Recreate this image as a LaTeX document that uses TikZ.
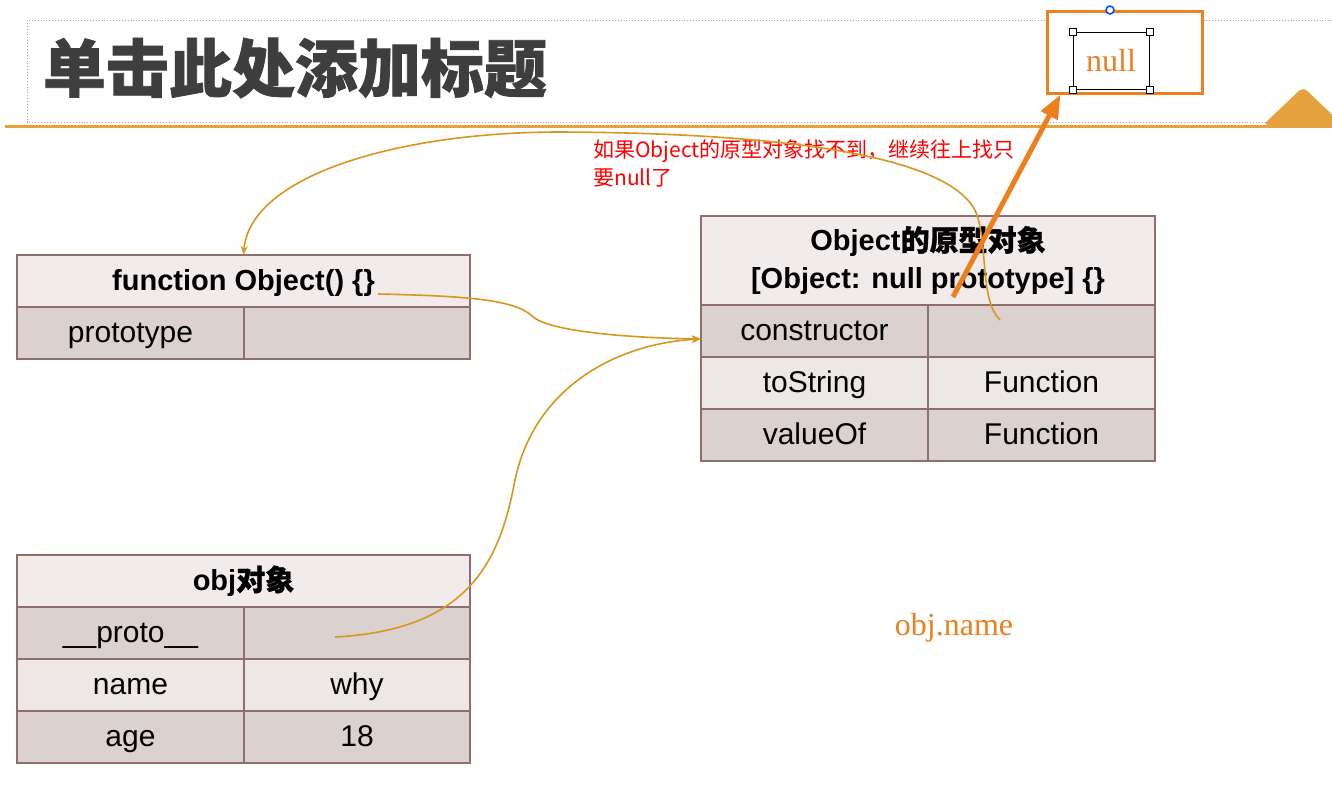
\documentclass[tikz,border=0pt]{standalone}
\usepackage{fontspec}
\setmainfont{Liberation Sans}
\newfontfamily\cjk{Noto Sans CJK SC}[BoldFeatures={FakeBold=1.2}]
\newfontfamily\cjkplain{Noto Sans CJK SC}
\newfontfamily\serifn{Liberation Serif}
\usetikzlibrary{arrows.meta,calc}
\definecolor{bordercol}{HTML}{8E6F6D}
\definecolor{hdrfill}{HTML}{F1ECEB}
\definecolor{darkfill}{HTML}{DBD1CE}
\definecolor{lightfill}{HTML}{EDE7E6}
\definecolor{gold}{HTML}{D8961F}
\definecolor{linegold}{HTML}{E6A23C}
\definecolor{nullorange}{HTML}{EE7F1E}
\definecolor{titlegray}{HTML}{3E3E3E}
\tikzset{
  cell/.style={draw=bordercol, line width=1.3pt, minimum height=52pt, inner sep=0pt, outer sep=0pt, text height=23pt, text depth=4pt, font=\fontsize{30}{38}\selectfont, text=black},
  hdr/.style={cell, fill=hdrfill, font=\fontsize{29}{38}\selectfont\bfseries},
  dk/.style={cell, fill=darkfill},
  lt/.style={cell, fill=lightfill},
  kcol/.style={minimum width=227pt},
  vcol/.style={minimum width=226pt},
  link/.style={draw=gold, line width=1.6pt, -{Stealth[length=9pt,width=7pt]}},
  handle/.style={draw=black, fill=white, line width=0.8pt, minimum size=7pt, inner sep=0pt},
}
\begin{document}
\begin{tikzpicture}[x=1pt,y=-1pt]
\useasboundingbox (0,0) rectangle (1332,790);
\fill[white] (0,0) rectangle (1332,790);
% title area
\draw[gray!70, line width=0.9pt, dotted] (1332,20) -- (27,20) -- (27,122) -- (1332,122);
\draw[linegold, line width=3pt] (5,126) -- (1332,126);
\fill[linegold, rounded corners=5pt] (1263,125) -- (1303,87) -- (1343,125) -- cycle;
\node[font=\cjk\fontsize{63}{70}\selectfont\bfseries, text=titlegray, inner sep=0pt] (title) at (295,68) {单击此处添加标题};
% null box
\node[draw=nullorange, line width=3pt, fill=white, minimum width=155pt, minimum height=82pt, inner sep=0pt] (nullbox) at (1124.5,52) {};
\node[draw=black, line width=1pt, minimum width=76pt, minimum height=57pt, inner sep=0pt, text=nullorange, font=\serifn\fontsize{32}{36}\selectfont] (nulltxt) at (1111,60.5) {null};
\node[handle] (h1) at (nulltxt.north west) {};
\node[handle] (h2) at (nulltxt.north east) {};
\node[handle] (h3) at (nulltxt.south west) {};
\node[handle] (h4) at (nulltxt.south east) {};
\node[draw=blue!70!cyan, line width=1.5pt, circle, minimum size=8pt, inner sep=0pt, fill=white] (rot) at (1110,10) {};
% table 1: function Object
\node[hdr, minimum width=453pt] (f1h) at (243.5,281) {function Object() \{\}};
\node[dk, kcol] (f1k) at (130.5,333) {prototype};
\node[dk, vcol] (f1v) at (357,333) {};
% table 2: Object prototype
\node[hdr, minimum width=454pt, minimum height=89pt, text height=, text depth=, align=center] (ph) at (928,260.5) {Object{\cjk 的原型对象}\\{}[Object: null prototype] \{\}};
\node[dk, kcol] (c1k) at (814.5,331) {constructor};
\node[dk, kcol] (c1v) at (1041.5,331) {};
\node[lt, kcol] (c2k) at (814.5,383) {toString};
\node[lt, kcol] (c2v) at (1041.5,383) {Function};
\node[dk, kcol] (c3k) at (814.5,435) {valueOf};
\node[dk, kcol] (c3v) at (1041.5,435) {Function};
% table 3: obj
\node[hdr, minimum width=453pt] (oh) at (243.5,581) {obj{\cjk 对象}};
\node[dk, kcol] (o1k) at (130.5,633) {\_\_proto\_\_};
\node[dk, vcol] (o1v) at (357,633) {};
\node[lt, kcol] (o2k) at (130.5,685) {name};
\node[lt, vcol] (o2v) at (357,685) {why};
\node[dk, kcol] (o3k) at (130.5,737) {age};
\node[dk, vcol] (o3v) at (357,737) {18};
% texts
\node[anchor=north west, align=left, text=red, inner sep=0pt, font=\cjkplain\fontsize{21}{28}\selectfont] (note) at (593,140) {如果Object的原型对象找不到，继续往上找只\\要null了};
\node[text=nullorange, font=\serifn\fontsize{32}{36}\selectfont, inner sep=0pt] (objname) at (954,628) {obj.name};
% connectors
\coordinate (s1) at (378,294);
\coordinate (s2) at (335,637);
\coordinate (s3) at (1000,320);
\coordinate (s4) at (953,297);
\draw[link] (s1) .. controls (470,296) and (515,300) .. (532,316) .. controls (550,333) and (640,338) .. ([yshift=-8pt]c1k.west);
\draw[link] (s2) .. controls (470,630) and (500,560) .. (515,480) .. controls (535,385) and (620,343) .. ([yshift=-8pt]c1k.west);
\draw[link] (s3) .. controls (980,300) and (988,250) .. (977,215) .. controls (955,155) and (780,133) .. (560,132) .. controls (400,132) and (250,175) .. (f1h.north);
\draw[nullorange, line width=5pt, -{Triangle[length=24pt,width=18pt]}] (s4) -- ([xshift=15pt]nullbox.south west);
\end{tikzpicture}
\end{document}
